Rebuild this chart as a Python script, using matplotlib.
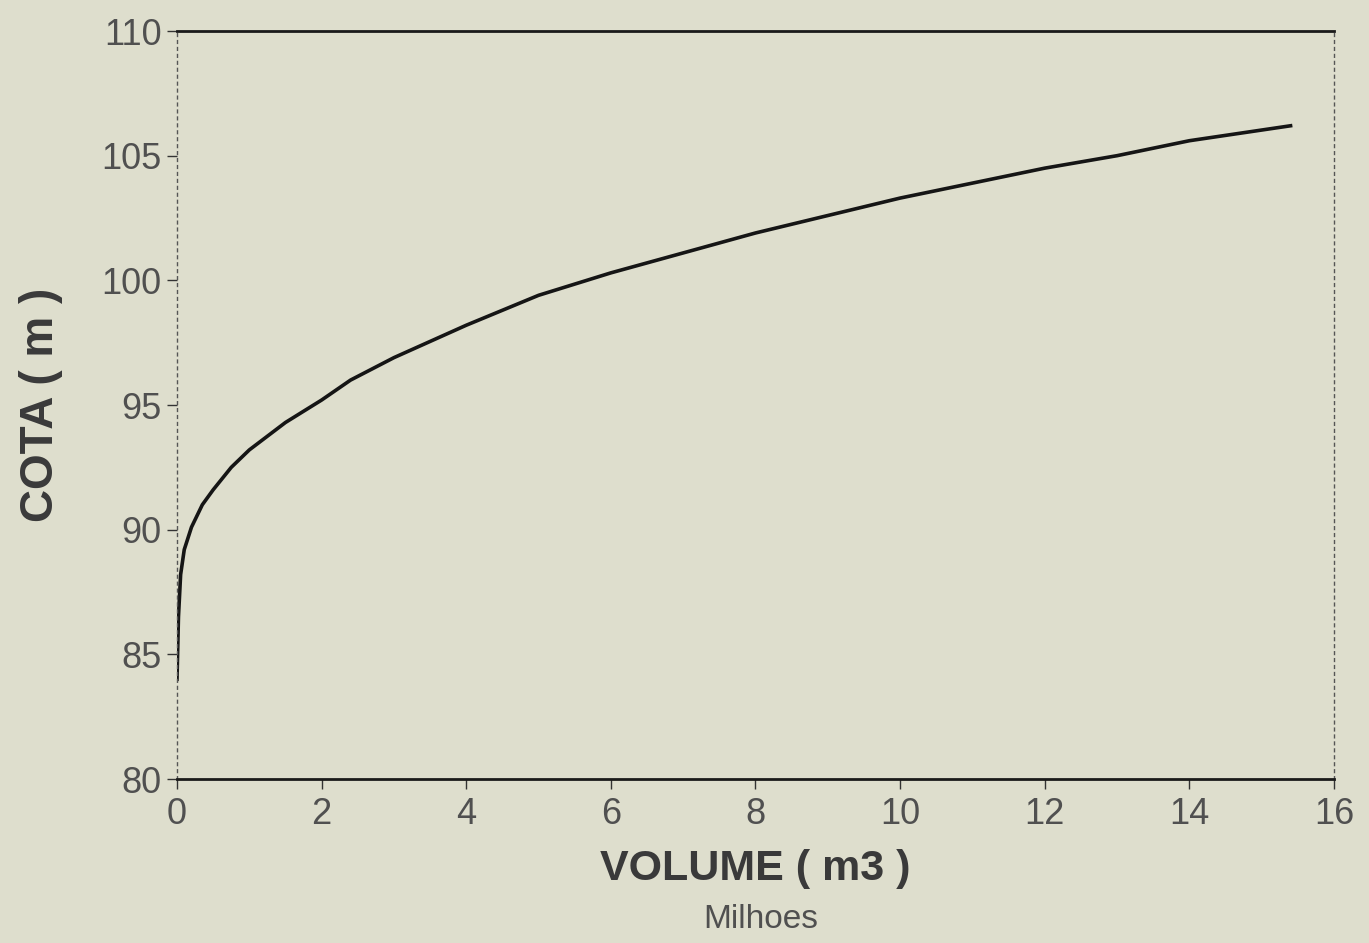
import matplotlib
matplotlib.use("Agg")
import matplotlib.pyplot as plt

# ========= datos (curva cota x volume) =========
volume = [0, 0.02, 0.05, 0.1, 0.2, 0.35, 0.5, 0.75, 1, 1.5, 2, 2.4, 3,
          4, 5, 6, 7, 8, 9, 10, 11, 12, 13, 14, 15.4]
cota = [84, 86.5, 88.2, 89.2, 90.1, 91.0, 91.6, 92.5, 93.2, 94.3, 95.2, 96.0, 96.9,
        98.2, 99.4, 100.3, 101.1, 101.9, 102.6, 103.3, 103.9, 104.5, 105.0, 105.6, 106.2]

x_ticks = [0, 2, 4, 6, 8, 10, 12, 14, 16]
y_ticks = [80, 85, 90, 95, 100, 105, 110]

bg = "#dedecd"
txt = "#505050"

plt.rcParams["font.family"] = ["Liberation Sans", "DejaVu Sans"]

fig = plt.figure(figsize=(13.69, 9.43), dpi=100, facecolor=bg)
ax = fig.add_axes([0.1293, 0.1739, 0.8451, 0.7932])
ax.set_facecolor(bg)

ax.plot(volume, cota, color="#151515", linewidth=2.6)

ax.set_xlim(0, 16)
ax.set_ylim(80, 110)
ax.set_xticks(x_ticks)
ax.set_yticks(y_ticks)
ax.tick_params(axis="both", direction="out", length=7, width=1,
               color="#333333", labelsize=26, labelcolor=txt, pad=4)
ax.tick_params(axis="x", pad=6)

for side in ["top", "bottom"]:
    ax.spines[side].set_linewidth(2)
    ax.spines[side].set_color("#1a1a1a")
for side in ["left", "right"]:
    ax.spines[side].set_linewidth(1)
    ax.spines[side].set_color("#555555")
    ax.spines[side].set_linestyle((0, (2, 3)))

ax.set_ylabel("COTA ( m )", fontsize=33, fontweight="bold", color="#3a3a3a",
              labelpad=28)
ax.set_xlabel("VOLUME ( m3 )", fontsize=31, fontweight="bold", color="#3a3a3a",
              labelpad=12)
fig.text(0.5555, 0.0244, "Milhoes", fontsize=24, color=txt, ha="center", va="center")

fig.savefig("out.png", dpi=100, facecolor=bg)
